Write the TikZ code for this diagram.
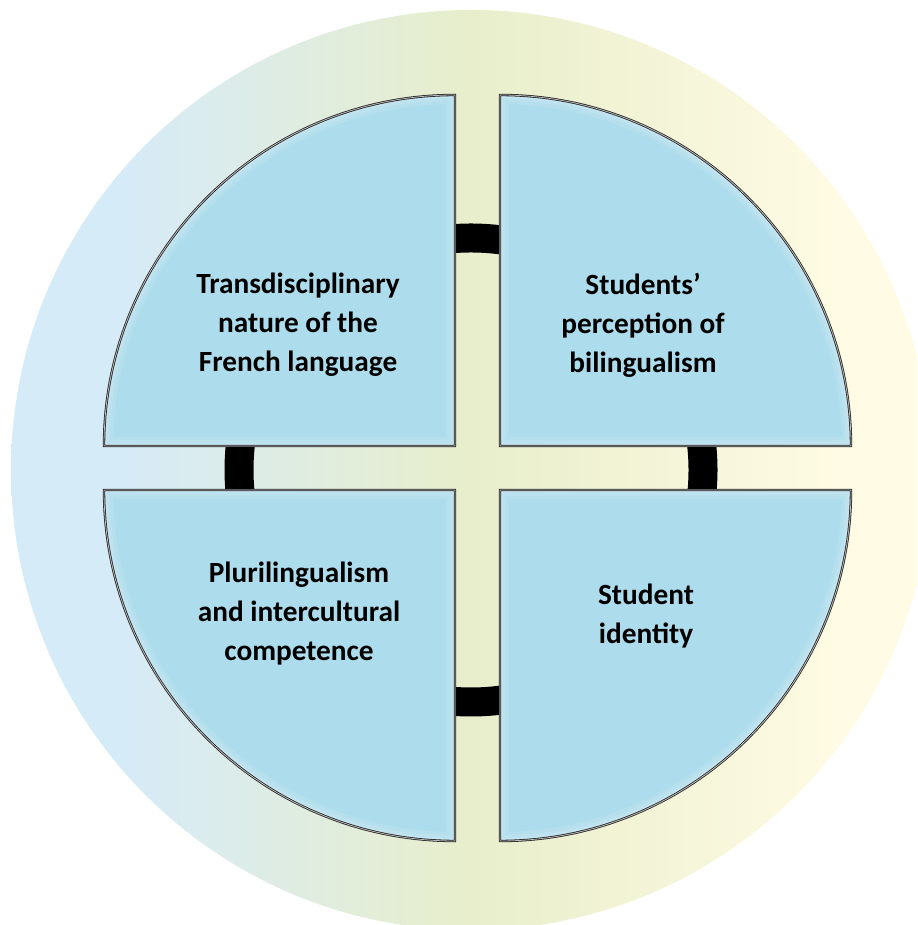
\documentclass[tikz,border=0pt]{standalone}
\usepackage{fontspec}
\setmainfont{Carlito}
\definecolor{bgL}{RGB}{214,235,248}
\definecolor{bgM}{RGB}{232,238,203}
\definecolor{bgR}{RGB}{255,251,228}
\definecolor{quadblue}{RGB}{173,220,236}
\pgfdeclarehorizontalshading{bgshade}{100bp}{color(0bp)=(bgL); color(25bp)=(bgL); color(31bp)=(bgL); color(50bp)=(bgM); color(70bp)=(bgR); color(100bp)=(bgR)}
\newcommand\qTL{(455,479) -- (104,479) arc[start angle=180,end angle=90,radius=351] -- cycle}
\newcommand\qTR{(500,479) -- (500,830) arc[start angle=90,end angle=0,radius=351] -- cycle}
\newcommand\qBL{(455,435) -- (104,435) arc[start angle=180,end angle=270,radius=351] -- cycle}
\newcommand\qBR{(500,435) -- (851,435) arc[start angle=0,end angle=-90,radius=351] -- cycle}
\tikzset{
  quadfill/.style={fill=quadblue},
  glowa/.style={draw=white, opacity=0.10, line width=18pt},
  glowb/.style={draw=white, opacity=0.12, line width=11pt},
  glowc/.style={draw=white, opacity=0.14, line width=5pt},
  quadline/.style={draw=black!85, double=gray!55, double distance=0.8pt, line width=0.8pt, line join=miter},
  lbl/.style={font=\fontsize{29.3}{39}\selectfont\bfseries, align=center, inner sep=0pt, text=black},
  ringbar/.style={draw=black, line width=29pt}
}
\newcommand\quadrant[1]{%
  \fill[quadfill] #1;
  \begin{scope}
    \clip #1;
    \draw[glowa] #1;
    \draw[glowb] #1;
    \draw[glowc] #1;
  \end{scope}
  \draw[quadline] #1;
}
\begin{document}
\begin{tikzpicture}[x=1pt,y=1pt]
\useasboundingbox (0,0) rectangle (917,925);
\clip (0,0) rectangle (917,925);
\shade[shading=bgshade] (471,455) circle (460);
\draw[ringbar] (471,455) circle (232);
\quadrant{\qTL}
\quadrant{\qTR}
\quadrant{\qBL}
\quadrant{\qBR}
\node[lbl] (tl) at (298,600) {Transdisciplinary\\nature of the\\French language};
\node[lbl] (tr) at (643,600) {Students’\\perception of\\bilingualism};
\node[lbl] (bl) at (299,311) {Plurilingualism\\and intercultural\\competence};
\node[lbl] (br) at (646,309) {Student\\identity};
\end{tikzpicture}
\end{document}
